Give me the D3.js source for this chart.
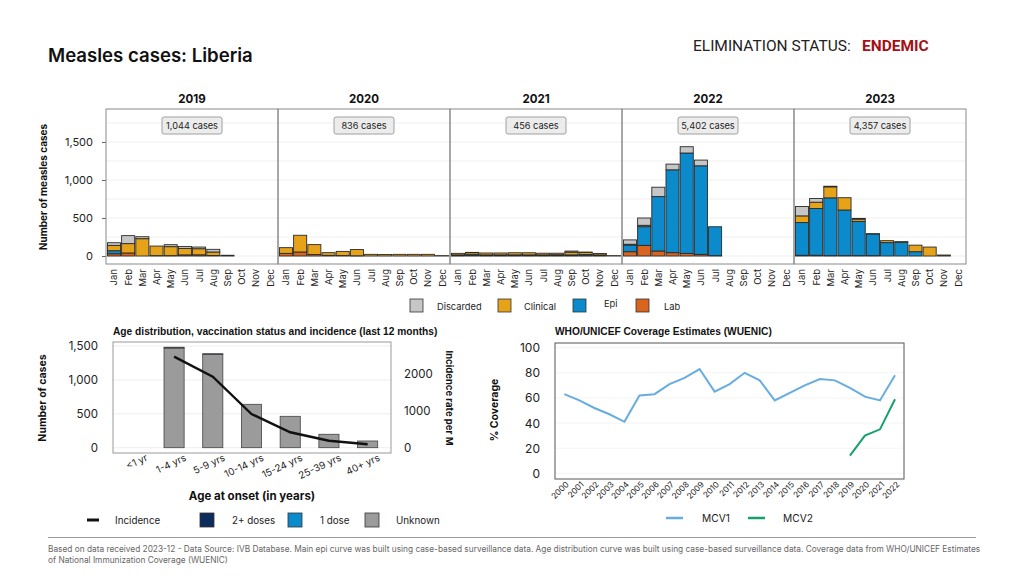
<!DOCTYPE html>
<html><head><meta charset="utf-8">
<script src="https://cdn.jsdelivr.net/npm/d3@7"></script>
<style>
body{margin:0;background:#fff;}
svg{display:block;font-family:Inter,"Noto Sans",sans-serif;}
</style></head>
<body><svg id="c" width="1024" height="576"></svg>
<script>
// ---------- DATA ----------
const years = ["2019","2020","2021","2022","2023"];
const months = ["Jan","Feb","Mar","Apr","May","Jun","Jul","Aug","Sep","Oct","Nov","Dec"];
const caseTotals = ["1,044 cases","836 cases","456 cases","5,402 cases","4,357 cases"];
const categories = ["Lab","Epi","Clinical","Discarded"];
const labData = [
  30,40,0,5,5,15,16,8,0,0,0,0,
  35,53,20,9,6,3,0,0,0,0,0,0,
  5,8,5,5,5,5,5,5,5,5,5,0,
  57,140,66,44,35,22,5,0,0,0,0,0,
  10,10,5,5,5,5,0,0,0,0,0,0];
const epiData = [
  40,0,0,0,0,0,0,0,0,0,0,0,
  0,0,0,0,0,0,0,0,0,0,0,0,
  10,15,10,10,10,10,10,12,10,15,10,0,
  88,246,716,1090,1320,1165,380,0,0,0,0,0,
  430,615,760,600,450,285,176,180,57,0,0,0];
const clinicalData = [
  70,123,228,126,118,85,80,45,10,0,0,0,
  75,220,130,35,55,82,22,20,22,22,22,5,
  20,22,25,25,28,28,22,20,35,27,19,5,
  10,18,0,0,0,0,0,0,0,0,0,0,
  88,83,145,162,30,4,26,9,86,118,13,0];
const discardedData = [
  35,105,26,0,26,26,22,35,0,0,0,0,
  0,0,0,0,0,0,0,0,0,0,0,0,
  0,3,0,0,0,0,0,0,15,5,0,0,
  57,96,123,75,83,75,0,0,0,0,0,0,
  123,48,8,0,10,0,0,0,0,0,0,0];
const topTicks = [0,500,1000,1500];

const ageGroups = ["<1 yr","1-4 yrs","5-9 yrs","10-14 yrs","15-24 yrs","25-39 yrs","40+ yrs"];
const ageUnknown = [0,1470,1378,640,463,198,99];
const ageOneDose = [0,0,0,0,0,0,0];
const ageTwoDoses = [0,12,8,0,0,0,0];
const incidence = [null,2480,1935,918,420,190,93];
const ageLeftTicks = [0,500,1000,1500];
const ageRightTicks = [0,1000,2000];

const covYears = d3.range(2000,2023).map(String);
const mcv1 = [63,58,52,47,41,62,63,71,76,83,65,71,80,74,58,64,70,75,74,68,61,58,78];
const mcv2 = [null,null,null,null,null,null,null,null,null,null,null,null,null,null,null,null,null,null,null,14,30,35,59];
const covTicks = [0,20,40,60,80,100];

// ---------- STYLE ----------
const colors = {Lab:"#d8641e", Epi:"#0b8bcb", Clinical:"#e6a31a", Discarded:"#c6c6c6"};
const svg = d3.select("#c");
svg.append("rect").attr("width",1024).attr("height",576).attr("fill","#fff");

// Header
svg.append("text").attr("x",48).attr("y",62).attr("font-size",18.6).attr("font-weight",600)
  .attr("fill","#111").text("Measles cases: Liberia");
svg.append("text").attr("x",693).attr("y",51).attr("font-size",15.5)
  .attr("font-family","'Liberation Sans Narrow','Roboto',sans-serif").attr("fill","#222")
  .text("ELIMINATION STATUS:");
svg.append("text").attr("x",862).attr("y",51).attr("font-size",15.5).attr("font-weight",700)
  .attr("font-family","'Liberation Sans Narrow','Roboto',sans-serif").attr("fill","#a50f15")
  .text("ENDEMIC");

// ---------- TOP EPI CURVE ----------
const px0 = 106, pW = 172, pTop = 109, pBot = 264;
const yTop = d3.scaleLinear().domain([-105,1934]).range([pBot,pTop]);
const stackData = d3.range(60).map(i=>({i, Lab:labData[i], Epi:epiData[i], Clinical:clinicalData[i], Discarded:discardedData[i]}));
const series = d3.stack().keys(categories)(stackData);

const gTop = svg.append("g");
d3.range(0,1751,250).forEach(v=>{
  gTop.append("line").attr("x1",px0).attr("x2",px0+pW*5).attr("y1",yTop(v)).attr("y2",yTop(v))
    .attr("stroke","#efefef").attr("stroke-width",1);
});
const yAx = svg.append("g").attr("transform",`translate(${px0},0)`)
  .call(d3.axisLeft(yTop).tickValues(topTicks).tickSize(4).tickFormat(d3.format(",")));
yAx.select(".domain").remove();
yAx.selectAll("line").attr("stroke","#666");
yAx.selectAll("text").attr("font-size",11).attr("fill","#222").attr("dx",-6).attr("font-family","Inter,sans-serif");
svg.append("text").attr("transform","translate(47,187) rotate(-90)").attr("text-anchor","middle")
  .attr("font-size",10).attr("font-weight",700).attr("fill","#111").text("Number of measles cases");

years.forEach((yr,k)=>{
  const x0 = px0 + k*pW;
  const xb = d3.scaleBand().domain(months).range([x0+1,x0+pW-1]).paddingInner(0.08).paddingOuter(0.03);
  const g = svg.append("g");
  series.forEach(s=>{
    g.selectAll(null).data(s.slice(k*12,k*12+12)).join("rect")
      .attr("x",(d,j)=>xb(months[j])).attr("width",xb.bandwidth())
      .attr("y",d=>yTop(d[1])).attr("height",d=>Math.max(0,yTop(d[0])-yTop(d[1])))
      .attr("fill",colors[s.key]).attr("stroke","#2a2a2a").attr("stroke-width",d=>d[1]>d[0]?0.9:0);
  });
  months.forEach(m=>{
    svg.append("text").attr("transform",`translate(${xb(m)+xb.bandwidth()/2+3.5},269) rotate(-90)`)
      .attr("text-anchor","end").attr("font-size",9.5).attr("fill","#222").text(m);
  });
  svg.append("text").attr("x",x0+pW/2).attr("y",103).attr("text-anchor","middle")
    .attr("font-size",11.5).attr("font-weight",700).attr("fill","#111").text(yr);
  svg.append("rect").attr("x",x0+pW/2-30).attr("y",117).attr("width",60).attr("height",17).attr("rx",2)
    .attr("fill","#ececec").attr("stroke","#a0a0a0");
  svg.append("text").attr("x",x0+pW/2).attr("y",129).attr("text-anchor","middle")
    .attr("font-size",9.2).attr("fill","#222").text(caseTotals[k]);
  svg.append("rect").attr("x",x0).attr("y",pTop).attr("width",pW).attr("height",pBot-pTop)
    .attr("fill","none").attr("stroke","#8a8a8a").attr("stroke-width",1);
});

const topLeg = [["Discarded",410,437],["Clinical",498,524],["Epi",573,604],["Lab",636,664]];
topLeg.forEach(([k,sx,tx])=>{
  svg.append("rect").attr("x",sx).attr("y",299).attr("width",13).attr("height",13)
    .attr("fill",colors[k]).attr("stroke","#333").attr("stroke-width",0.8);
  svg.append("text").attr("x",tx).attr("y",k==="Epi"?307:310).attr("font-size",9.3).attr("fill","#222").text(k);
});

// ---------- AGE DISTRIBUTION ----------
const aL=113, aR=391, aT=342, aB=453;
svg.append("text").attr("x",113).attr("y",335).attr("font-size",10.2).attr("font-weight",700)
  .attr("font-family","'Liberation Sans',Arial,sans-serif").attr("fill","#111")
  .text("Age distribution, vaccination status and incidence (last 12 months)");
const xa = d3.scaleBand().domain(ageGroups).range([116,387]).paddingInner(0.48).paddingOuter(0.24);
const ya = d3.scaleLinear().domain([0,1500]).range([447.7,346]);
const yi = d3.scaleLinear().domain([0,2000]).range([447.7,374.3]);
ageLeftTicks.forEach(v=>{
  svg.append("line").attr("x1",aL).attr("x2",aR).attr("y1",ya(v)).attr("y2",ya(v)).attr("stroke","#eeeeee");
});
svg.append("rect").attr("x",aL).attr("y",aT).attr("width",aR-aL).attr("height",aB-aT)
  .attr("fill","none").attr("stroke","#9a9a9a");
const ageStack = d3.stack().keys(["unk","one","two"])(ageGroups.map((g,i)=>({g,two:ageTwoDoses[i],one:ageOneDose[i],unk:ageUnknown[i]})));
const ageCol = {two:"#0d2b5b", one:"#0b8bcb", unk:"#9b9b9b"};
ageStack.forEach(s=>{
  svg.append("g").selectAll("rect").data(s.filter(d=>d[1]>d[0])).join("rect")
    .attr("x",d=>xa(d.data.g)).attr("width",xa.bandwidth())
    .attr("y",d=>ya(d[1])).attr("height",d=>ya(d[0])-ya(d[1]))
    .attr("fill",ageCol[s.key]).attr("stroke","#444").attr("stroke-width",0.8);
});
const incLine = d3.line().defined(d=>d.v!=null).x(d=>xa(d.g)+xa.bandwidth()/2).y(d=>yi(d.v));
svg.append("path").datum(ageGroups.map((g,i)=>({g,v:incidence[i]})))
  .attr("d",incLine).attr("fill","none").attr("stroke","#111").attr("stroke-width",2.4);
ageLeftTicks.forEach(v=>{
  svg.append("text").attr("x",98).attr("y",ya(v)+4).attr("text-anchor","end").attr("font-size",11.5)
    .attr("fill","#222").text(d3.format(",")(v));
});
ageRightTicks.forEach(v=>{
  svg.append("text").attr("x",404).attr("y",yi(v)+4).attr("font-size",11.5).attr("fill","#222").text(v);
});
ageGroups.forEach(g=>{
  svg.append("text").attr("transform",`translate(${xa(g)+xa.bandwidth()/2+13},460) rotate(-25)`)
    .attr("text-anchor","end").attr("font-size",9.8).attr("fill","#222").text(g);
});
svg.append("text").attr("x",252).attr("y",500).attr("text-anchor","middle").attr("font-size",11.5)
  .attr("font-weight",700).attr("fill","#111").text("Age at onset (in years)");
svg.append("text").attr("transform","translate(46,398) rotate(-90)").attr("text-anchor","middle")
  .attr("font-size",10.5).attr("font-weight",700).attr("fill","#111").text("Number of cases");
svg.append("text").attr("transform","translate(446,398) rotate(90)").attr("text-anchor","middle")
  .attr("font-size",9.5).attr("font-weight",700).attr("fill","#111").text("Incidence rate per M");
svg.append("line").attr("x1",87).attr("x2",99).attr("y1",520).attr("y2",520).attr("stroke","#111").attr("stroke-width",3);
svg.append("text").attr("x",115).attr("y",524).attr("font-size",9.8).attr("fill","#222").text("Incidence");
[["two",200,232,"2+ doses"],["one",288,320,"1 dose"],["unk",365,396,"Unknown"]].forEach(([k,sx,tx,l])=>{
  svg.append("rect").attr("x",sx).attr("y",513).attr("width",14).attr("height",14)
    .attr("fill",ageCol[k]).attr("stroke","#333").attr("stroke-width",0.8);
  svg.append("text").attr("x",tx).attr("y",524).attr("font-size",9.8).attr("fill","#222").text(l);
});

// ---------- COVERAGE ----------
const cL=555, cR=904, cT=343, cB=479;
svg.append("text").attr("x",555).attr("y",335).attr("font-size",10.2).attr("font-weight",700)
  .attr("font-family","'Liberation Sans',Arial,sans-serif").attr("fill","#111")
  .text("WHO/UNICEF Coverage Estimates (WUENIC)");
const xc = d3.scalePoint().domain(covYears).range([564.3,895]);
const yc = d3.scaleLinear().domain([0,100]).range([473.3,347.7]);
covTicks.forEach(v=>{
  svg.append("line").attr("x1",cL).attr("x2",cR).attr("y1",yc(v)).attr("y2",yc(v)).attr("stroke","#f4f4f4");
  svg.append("text").attr("x",540).attr("y",yc(v)+4.5).attr("text-anchor","end").attr("font-size",12)
    .attr("fill","#222").text(v);
});
svg.append("rect").attr("x",cL).attr("y",cT).attr("width",cR-cL).attr("height",cB-cT)
  .attr("fill","none").attr("stroke","#555");
covYears.forEach(y=>{
  svg.append("text").attr("transform",`translate(${xc(y)+5},485) rotate(-45)`)
    .attr("text-anchor","end").attr("font-size",8.2).attr("fill","#222").text(y);
});
const covLine = d3.line().defined(d=>d.v!=null).x(d=>xc(d.y)).y(d=>yc(d.v));
svg.append("path").datum(covYears.map((y,i)=>({y,v:mcv1[i]}))).attr("d",covLine)
  .attr("fill","none").attr("stroke","#67addf").attr("stroke-width",2);
svg.append("path").datum(covYears.map((y,i)=>({y,v:mcv2[i]}))).attr("d",covLine)
  .attr("fill","none").attr("stroke","#16a06c").attr("stroke-width",2);
svg.append("text").attr("transform","translate(498,410) rotate(-90)").attr("text-anchor","middle")
  .attr("font-size",10.5).attr("font-weight",700).attr("fill","#111").text("% Coverage");
[["MCV1",666,702,"#67addf"],["MCV2",748,783,"#16a06c"]].forEach(([l,lx,tx,c])=>{
  svg.append("line").attr("x1",lx).attr("x2",lx+17).attr("y1",518).attr("y2",518).attr("stroke",c).attr("stroke-width",2.5);
  svg.append("text").attr("x",tx).attr("y",522).attr("font-size",10.2).attr("fill","#222").text(l);
});

// ---------- FOOTER ----------
svg.append("line").attr("x1",48).attr("x2",976).attr("y1",537.5).attr("y2",537.5).attr("stroke","#9a9a9a");
svg.append("text").attr("x",48).attr("y",551.5).attr("font-size",8.3).attr("fill","#666")
  .text("Based on data received 2023-12 - Data Source: IVB Database. Main epi curve was built using case-based surveillance data.  Age distribution curve was built using case-based surveillance data. Coverage data from WHO/UNICEF Estimates");
svg.append("text").attr("x",48).attr("y",562.5).attr("font-size",8.3).attr("fill","#666")
  .text("of National Immunization Coverage (WUENIC)");
</script></body></html>
